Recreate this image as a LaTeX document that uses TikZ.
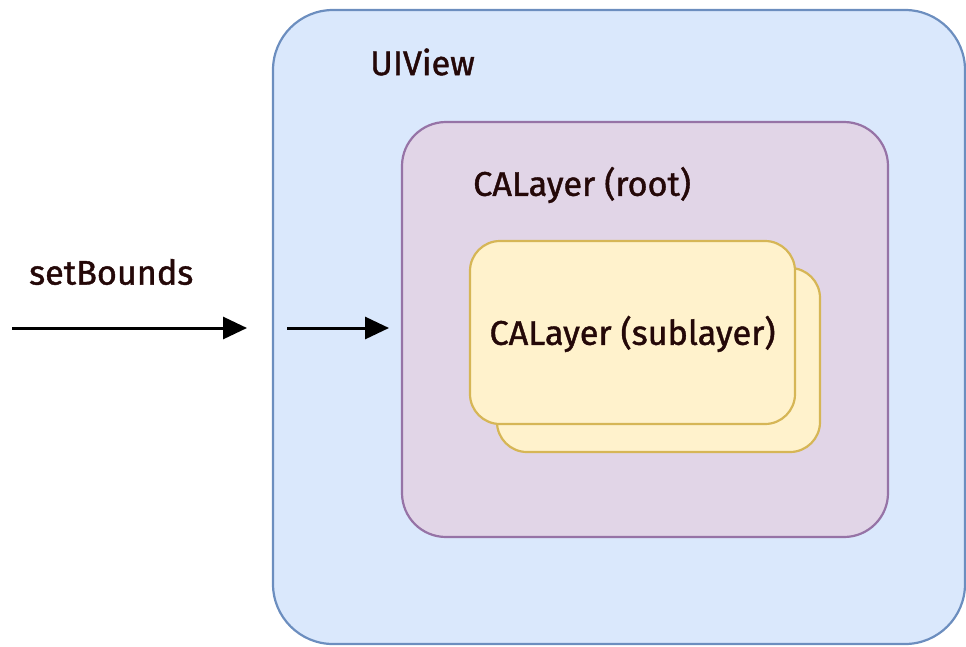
\documentclass[tikz,border=0pt]{standalone}
\usepackage{fontspec}
\setmainfont{Fira Sans}
\newfontfamily\capfont{Fira Sans}[FakeBold=1.2]
\usetikzlibrary{arrows.meta}
\definecolor{viewfill}{HTML}{DAE8FC}
\definecolor{viewline}{HTML}{6C8EBF}
\definecolor{rootfill}{HTML}{E1D5E7}
\definecolor{rootline}{HTML}{9673A6}
\definecolor{subfill}{HTML}{FFF2CC}
\definecolor{subline}{HTML}{D6B656}
\definecolor{labeltext}{HTML}{240808}
\begin{document}
\begin{tikzpicture}[x=1pt,y=-1pt,
  panel/.style={draw, line width=2.2pt, rectangle, inner sep=0pt},
  caption/.style={text=labeltext, font=\capfont\fontsize{34.2}{38}\selectfont, inner sep=0pt},
  flow/.style={line width=3pt, -{Triangle[length=24pt,width=22pt]}}]
\useasboundingbox (0,0) rectangle (966,646);
% nested boxes
\node[panel, fill=viewfill, draw=viewline, rounded corners=60pt,
      minimum width=692pt, minimum height=634pt] (uiview) at (619,327) {};
\node[panel, fill=rootfill, draw=rootline, rounded corners=44pt,
      minimum width=486pt, minimum height=415pt] (root) at (645,329.5) {};
\node[panel, fill=subfill, draw=subline, rounded corners=30pt,
      minimum width=323pt, minimum height=184pt] (subback) at (658.5,360) {};
\node[panel, fill=subfill, draw=subline, rounded corners=30pt,
      minimum width=325pt, minimum height=183pt] (subfront) at (632.5,332.5) {};
% labels
\node[caption, anchor=west] (viewlabel) at (370,62) {UIView};
\node[caption, anchor=west] (rootlabel) at (473,185) {CALayer (root)};
\node[caption] (sublabel) at (632.5,334) {CALayer (sublayer)};
\node[caption, anchor=west] (callabel) at (29,272) {setBounds};
% incoming calls
\coordinate (a1) at (12,328);
\coordinate (b1) at (247,328);
\coordinate (a2) at (287,328);
\coordinate (b2) at (389,328);
\draw[flow] (a1) -- (b1);
\draw[flow] (a2) -- (b2);
\end{tikzpicture}
\end{document}
